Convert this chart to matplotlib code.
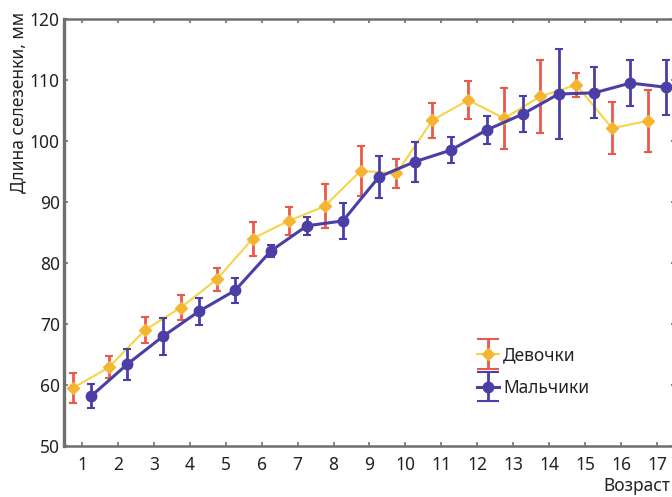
import numpy as np
import matplotlib
matplotlib.use('Agg')
import matplotlib.pyplot as plt
from matplotlib.lines import Line2D
from matplotlib.legend_handler import HandlerErrorbar

# --- DATA ---
ages = np.arange(1, 18)
girls_mean = [59.5, 62.9, 69.0, 72.7, 77.3, 84.0, 86.9, 89.3, 95.1, 94.7,
              103.4, 106.7, 103.7, 107.3, 109.2, 102.1, 103.3]
girls_err = [2.4, 1.8, 2.1, 2.0, 1.9, 2.8, 2.3, 3.6, 4.1, 2.4,
             2.9, 3.1, 5.0, 6.0, 2.0, 4.3, 5.1]
boys_mean = [58.2, 63.4, 68.0, 72.1, 75.5, 82.0, 86.1, 86.9, 94.1, 96.6,
             98.5, 101.8, 104.4, 107.7, 107.9, 109.5, 108.8]
boys_err = [1.9, 2.5, 3.0, 2.2, 2.0, 1.0, 1.5, 2.9, 3.5, 3.3,
            2.1, 2.3, 2.9, 7.4, 4.2, 3.8, 4.5]

x_ticks = list(range(1, 18))
y_ticks = [50, 60, 70, 80, 90, 100, 110, 120]

# --- STYLE ---
plt.rcParams['font.family'] = ['Noto Sans', 'DejaVu Sans']
FS = 12.5
GIRL_LINE = '#f7d447'
GIRL_MARK = '#f6b433'
GIRL_ERR = '#ea5a4c'
BOY_COL = '#4b3ea6'
FRAME = '#6f6f6f'

W, H = 672, 497
fig = plt.figure(figsize=(W / 100, H / 100), dpi=100)
ax = fig.add_axes([64 / W, (H - 446) / H, (675 - 64) / W, (446 - 19) / H])

gx = ages - 0.25
bx = ages + 0.26

ax.errorbar(gx, girls_mean, yerr=girls_err, color=GIRL_LINE, lw=1.5,
            marker='D', ms=6, mfc=GIRL_MARK, mec=GIRL_MARK,
            ecolor=GIRL_ERR, elinewidth=2.0, capsize=3, capthick=1.5,
            label='Девочки', zorder=3)
ax.errorbar(bx, boys_mean, yerr=boys_err, color=BOY_COL, lw=2.2,
            marker='o', ms=7.5, mfc=BOY_COL, mec=BOY_COL,
            ecolor=BOY_COL, elinewidth=2.0, capsize=3, capthick=1.5,
            label='Мальчики', zorder=4)

ax.set_xlim(0.5, 17.5)
ax.set_ylim(50, 120)
ax.set_xticks(x_ticks)
ax.set_yticks(y_ticks)
ax.tick_params(direction='in', length=3, width=1.2, color=FRAME,
               top=True, right=True, labelsize=FS, labelcolor='#222222')
ax.tick_params(axis='x', pad=7)
ax.tick_params(axis='y', pad=3)

for side, lw in [('left', 2.4), ('bottom', 1.8), ('top', 1.8), ('right', 1.8)]:
    ax.spines[side].set_color(FRAME)
    ax.spines[side].set_linewidth(lw)

fig.text(18 / W, 1 - 12 / H, 'Длина селезенки, мм', rotation=90,
         ha='center', va='top', fontsize=FS, color='#222222')
fig.text(670 / W, 1 - 486 / H, 'Возраст', ha='right', va='center',
         fontsize=FS, color='#222222')

# legend: errorbar handles drawn as tall "I" shapes like the original
leg = ax.legend(loc='upper left', bbox_to_anchor=(477 / W, 1 - 346 / H),
                bbox_transform=fig.transFigure, frameon=False, fontsize=FS,
                handlelength=1.25, handletextpad=0.25, labelspacing=0.85,
                borderpad=0, borderaxespad=0, numpoints=1,
                handler_map={type(ax.containers[0]): HandlerErrorbar(xerr_size=0.85)})
for t in leg.get_texts():
    t.set_color('#222222')
for ln in leg.findobj(Line2D):
    if ln.get_marker() == '_':
        ln.set_markersize(16)

fig.savefig('out.png', dpi=100)
